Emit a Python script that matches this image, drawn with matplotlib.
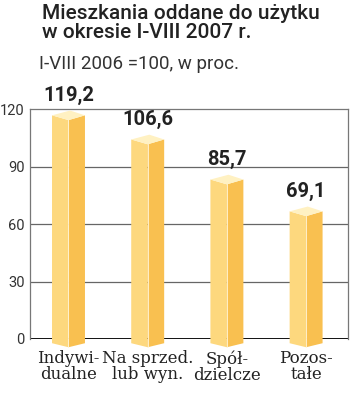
import matplotlib
matplotlib.use("Agg")
import matplotlib.pyplot as plt
from matplotlib.patches import Polygon

categories = ["Indywi-\ndualne", "Na sprzed.\nlub wyn.", "Spół-\ndzielcze", "Pozos-\ntałe"]
values = [119.2, 106.6, 85.7, 69.1]
value_labels = ["119,2", "106,6", "85,7", "69,1"]
yticks = [0, 30, 60, 90, 120]

fig = plt.figure(figsize=(3.5, 4.0), dpi=100)
ax = fig.add_axes([30/350, 61/400, 318/350, 230/400])

ax.set_xlim(-0.486, 3.529)
ax.set_ylim(0, 120)

# grid
for t in yticks[1:-1]:
    ax.axhline(t, color="#666666", lw=0.9, zorder=1)

left_c = "#FDD87E"
right_c = "#F9C050"
top_c = "#FFF1C2"
w = 0.208
for i, v in enumerate(values):
    c = i
    lf = Polygon([(c - w, -2.2), (c - w, v - 2.5), (c, v - 5.0), (c, -4.3)],
                 closed=True, facecolor=left_c, edgecolor="none", zorder=3, clip_on=False)
    rf = Polygon([(c, -4.3), (c, v - 5.0), (c + w, v - 2.5), (c + w, -2.2)],
                 closed=True, facecolor=right_c, edgecolor="none", zorder=3, clip_on=False)
    tp = Polygon([(c - w, v - 2.5), (c + 0.02, v), (c + w, v - 2.5), (c, v - 5.0)],
                 closed=True, facecolor=top_c, edgecolor="none", zorder=4, clip_on=False)
    for p in (lf, rf, tp):
        ax.add_patch(p)
    ax.plot([c, c], [-4.3, v - 5.0], color="#FFF6DA", lw=0.6, zorder=5, clip_on=False)
    ax.annotate(value_labels[i], (c, v), xytext=(0, 7), textcoords="offset points",
                ha="center", va="baseline", fontsize=14.5, fontweight="bold",
                family="Roboto", color="#222222", zorder=6, annotation_clip=False)

# zero line
ax.axhline(0, color="#111111", lw=1.4, zorder=2)

for s in ("left", "right", "top"):
    ax.spines[s].set_color("#777777")
    ax.spines[s].set_linewidth(0.9)
ax.spines["bottom"].set_visible(False)

ax.set_yticks(yticks)
ax.set_yticklabels([str(t) for t in yticks], fontsize=10.5, family="Roboto", color="#333333")
ax.tick_params(axis="y", length=0, pad=4)
ax.set_xticks(range(len(categories)))
ax.set_xticklabels(categories, fontsize=12, family="DejaVu Serif", color="#222222",
                   linespacing=0.95)
ax.tick_params(axis="x", length=0, pad=8)

fig.text(42/350, 1 - 4/400, "Mieszkania oddane do użytku\nw okresie I-VIII 2007 r.",
         ha="left", va="top", fontsize=15, family="Roboto", fontweight="medium",
         color="#222222", linespacing=1.0)
fig.text(39/350, 1 - 55/400, "I-VIII 2006 =100, w proc.", ha="left", va="top",
         fontsize=13.5, family="Roboto", color="#333333")

fig.savefig("out.png", dpi=100, facecolor="white")
